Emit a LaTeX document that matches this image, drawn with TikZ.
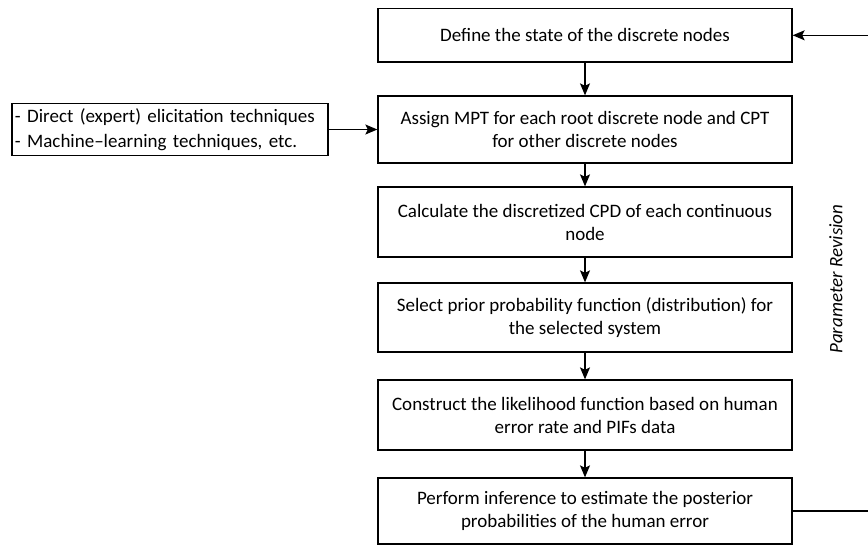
\documentclass[tikz,border=0pt]{standalone}
\usepackage{fontspec}
\setmainfont{Carlito}
\usetikzlibrary{arrows.meta}
\begin{document}
\begin{tikzpicture}[x=1pt,y=-1pt,
  box/.style={draw, line width=1.3pt, minimum width=414pt, align=center, inner sep=0pt, font=\fontsize{19}{23}\selectfont},
  sidebox/.style={draw, line width=1.3pt, minimum width=316pt, align=left, inner sep=3pt, font=\fontsize{19}{25}\selectfont},
  arr/.style={-{Stealth[length=12pt,width=10pt,inset=2.5pt]}, line width=1.3pt},
  lbl/.style={font=\fontsize{19}{23}\selectfont\itshape, rotate=90, inner sep=0pt}]
\clip (0,0) rectangle (868,544);
\node[box, minimum height=53.5pt] (b1) at (585,35.3) {Define the state of the discrete nodes};
\node[box, minimum height=67pt] (b2) at (585,129.5) {Assign MPT for each root discrete node and CPT\\for other discrete nodes};
\node[box, minimum height=70pt] (b3) at (585,222) {Calculate the discretized CPD of each continuous\\node};
\node[box, minimum height=69pt] (b4) at (585,317.5) {Select prior probability function (distribution) for\\the selected system};
\node[box, minimum height=70pt] (b5) at (585,415) {Construct the likelihood function based on human\\error rate and PIFs data};
\node[box, minimum height=66pt] (b6) at (585,511) {Perform inference to estimate the posterior\\probabilities of the human error};
\node[sidebox, minimum height=52pt, text width=310pt] (src) at (170,129.5) {- Direct (expert) elicitation techniques\\- Machine--learning techniques, etc.};
\node[lbl] (rev) at (836,279) {Parameter Revision};
\draw[arr] (b1) -- (b2);
\draw[arr] (b2) -- (b3);
\draw[arr] (b3) -- (b4);
\draw[arr] (b4) -- (b5);
\draw[arr] (b5) -- (b6);
\draw[arr] (src) -- (b2);
\draw[arr] (b6.east) -- ++(100,0) |- (b1.east);
\end{tikzpicture}
\end{document}
